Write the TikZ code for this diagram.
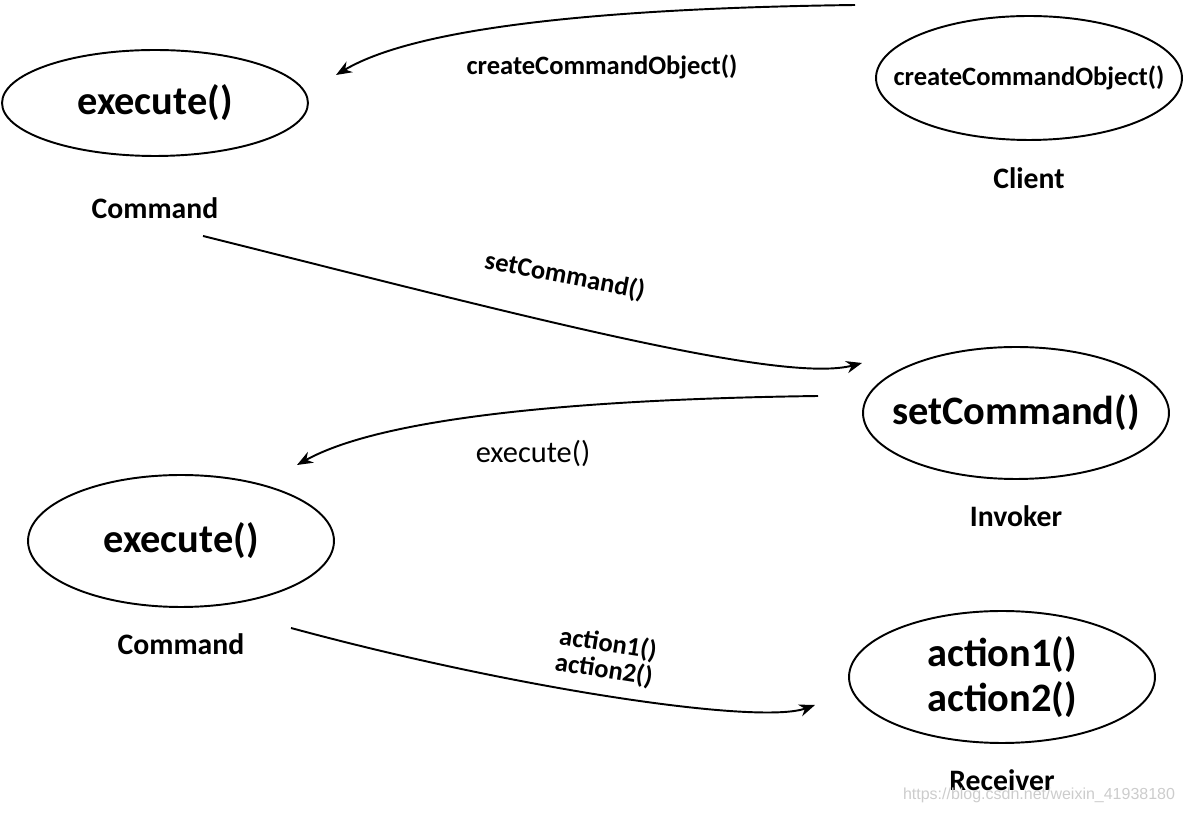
\documentclass[tikz,border=0pt]{standalone}
\usepackage{fontspec}
\setmainfont{Carlito}
\newfontfamily\markfont{Liberation Sans}
\usetikzlibrary{positioning,arrows.meta,shapes.geometric}

\tikzset{
  obj/.style={draw,ellipse,line width=1.1pt,inner xsep=-12pt,inner ysep=-6pt,minimum width=6.12cm,minimum height=2.64cm,font=\fontsize{23}{27}\selectfont\bfseries,align=center},
  role/.style={font=\fontsize{16.9}{20}\selectfont\bfseries},
  msg/.style={font=\fontsize{15.1}{17}\selectfont\bfseries,align=center},
  call/.style={line width=1.1pt,-{Stealth[length=9pt,width=7pt]}}
}

\begin{document}
\begin{tikzpicture}[x=0.02cm,y=-0.02cm]
\useasboundingbox (0,0) rectangle (1184,813);

% objects
\node[obj,minimum height=2.12cm] (cmdA) at (155,103) {execute()};
\node[obj,minimum height=2.48cm,inner xsep=-16pt,font=\fontsize{15.1}{18}\selectfont\bfseries] (client) at (1029,78) {createCommandObject()};
\node[obj] (invoker) at (1016,413) {setCommand()};
\node[obj] (cmdB) at (181,541) {execute()};
\node[obj] (recv) at (1002,677) {action1()\\[-1pt]action2()};

% roles
\node[role,below=0.70cm of cmdA] (cmdAname) {Command};
\node[role,below=0.42cm of client] (clientname) {Client};
\node[role,below=0.40cm of invoker] (invokername) {Invoker};
\node[role,below=0.40cm of cmdB] (cmdBname) {Command};
\node[role,below=0.40cm of recv] (recvname) {Receiver};

% calls
\coordinate (c1s) at (855,5);
\coordinate (c1e) at (336,75);
\draw[call] (c1s) .. controls (620,8) and (420,25) .. (c1e);
\node[msg] (m1) at (602,67) {createCommandObject()};

\coordinate (c2s) at (203,236);
\coordinate (c2e) at (862,363);
\draw[call] (c2s) .. controls (500,310) and (780,385) .. (c2e);
\node[msg,rotate=-11] (m2) at (565,276) {setCommand()};

\coordinate (c3s) at (818,396);
\coordinate (c3e) at (297,465);
\draw[call] (c3s) .. controls (590,399) and (385,416) .. (c3e);
\node[msg,font=\fontsize{17.3}{20}\selectfont] (m3) at (533,453) {execute()};

\coordinate (c4s) at (291,628);
\coordinate (c4e) at (815,705);
\draw[call] (c4s) .. controls (520,690) and (760,725) .. (c4e);
\node[msg,rotate=-9] (m4) at (606,657) {action1()\\[-2pt]action2()};

\node[font=\markfont\fontsize{9.1}{11}\selectfont,text=gray!40] (mark) at (1039,795) {https://blog.csdn.net/weixin\_41938180};
\end{tikzpicture}
\end{document}
